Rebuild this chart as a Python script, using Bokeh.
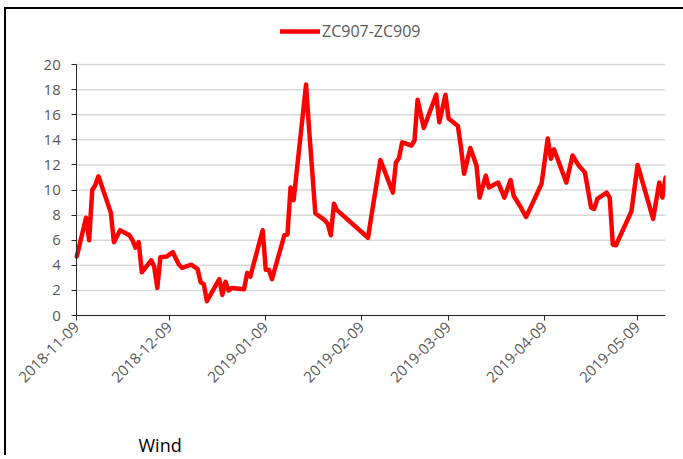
import datetime as dt
from math import pi
from bokeh.plotting import figure
from bokeh.models import (Range1d, FixedTicker, Legend, LegendItem, Label,
                          DatetimeTickFormatter, ColumnDataSource)
from bokeh.embed import file_html
from bokeh.resources import INLINE

# ---------------- data ----------------
series_name = "ZC907-ZC909"
caption = "Wind"

dates = [
    "2018-11-09", "2018-11-12", "2018-11-13", "2018-11-14", "2018-11-15", "2018-11-16",
    "2018-11-20", "2018-11-21", "2018-11-23", "2018-11-26", "2018-11-27", "2018-11-28",
    "2018-11-29", "2018-11-30", "2018-12-03", "2018-12-04", "2018-12-05", "2018-12-06",
    "2018-12-08", "2018-12-10", "2018-12-12", "2018-12-13", "2018-12-16", "2018-12-18",
    "2018-12-19", "2018-12-20", "2018-12-21", "2018-12-25", "2018-12-26", "2018-12-27",
    "2018-12-28", "2018-12-29", "2019-01-02", "2019-01-03", "2019-01-04", "2019-01-08",
    "2019-01-09", "2019-01-10", "2019-01-11", "2019-01-15", "2019-01-16", "2019-01-17",
    "2019-01-18", "2019-01-22", "2019-01-23", "2019-01-25", "2019-01-28", "2019-01-29",
    "2019-01-30", "2019-01-31", "2019-02-01", "2019-02-11", "2019-02-12", "2019-02-15",
    "2019-02-19", "2019-02-20", "2019-02-21", "2019-02-22", "2019-02-25", "2019-02-26",
    "2019-02-27", "2019-03-01", "2019-03-05", "2019-03-06", "2019-03-08", "2019-03-09",
    "2019-03-11", "2019-03-12", "2019-03-13", "2019-03-14", "2019-03-16", "2019-03-18",
    "2019-03-19", "2019-03-21", "2019-03-22", "2019-03-25", "2019-03-27", "2019-03-29",
    "2019-03-30", "2019-04-01", "2019-04-03", "2019-04-05", "2019-04-08", "2019-04-10",
    "2019-04-11", "2019-04-12", "2019-04-16", "2019-04-18", "2019-04-20", "2019-04-22",
    "2019-04-24", "2019-04-25", "2019-04-26", "2019-04-29", "2019-04-30", "2019-05-01",
    "2019-05-02", "2019-05-07", "2019-05-09", "2019-05-14", "2019-05-16", "2019-05-17",
    "2019-05-18",
]
values = [
    4.7, 7.8, 6.0, 10.0, 10.4, 11.1,
    8.2, 5.85, 6.8, 6.4, 6.0, 5.4,
    5.85, 3.45, 4.4, 3.9, 2.2, 4.65,
    4.7, 5.05, 4.05, 3.8, 4.05, 3.7,
    2.65, 2.5, 1.15, 2.9, 1.65, 2.7,
    2.0, 2.2, 2.1, 3.4, 3.1, 6.8,
    3.65, 3.65, 2.9, 6.4, 6.45, 10.2,
    9.2, 18.4, 14.8, 8.15, 7.6, 7.3,
    6.4, 8.9, 8.4, 6.2, 7.8, 12.4,
    9.8, 12.2, 12.55, 13.8, 13.55, 13.95,
    17.2, 14.95, 17.6, 15.4, 17.6, 15.7,
    15.3, 15.1, 13.4, 11.3, 13.35, 11.95,
    9.4, 11.15, 10.2, 10.6, 9.4, 10.8,
    9.55, 8.75, 7.85, 8.9, 10.5, 14.1,
    12.5, 13.25, 10.6, 12.75, 11.95, 11.4,
    8.6, 8.5, 9.3, 9.8, 9.4, 5.65,
    5.6, 8.3, 12.0, 7.7, 10.6, 9.4,
    11.0,
]
x_tick_labels = ["2018-11-09", "2018-12-09", "2019-01-09", "2019-02-09",
                 "2019-03-09", "2019-04-09", "2019-05-09"]
y_ticks = [0, 2, 4, 6, 8, 10, 12, 14, 16, 18, 20]

# ---------------- layout constants ----------------
FONT = "Open Sans"
GRAY = "#595959"
AXIS = "#262626"
# blank room around the plot area (legend above, labels/caption below, y labels left);
# the axes themselves stay on 0..20 and on the first..last date
Y_TOP = 23.59
Y_BOT = -11.31
X_PAD_DAYS = 22.67


def to_ms(s):
    return (dt.datetime.strptime(s, "%Y-%m-%d") - dt.datetime(1970, 1, 1)).total_seconds() * 1000


x_ms = [to_ms(d) for d in dates]
tick_ms = [to_ms(s) for s in x_tick_labels]
x0, x1 = x_ms[0], x_ms[-1]

src = ColumnDataSource(data=dict(x=x_ms, y=values))
grid_src = ColumnDataSource(data=dict(x0=[x0] * len(y_ticks), x1=[x1] * len(y_ticks),
                                      y=y_ticks))

p = figure(width=679, height=448, x_axis_type="datetime",
           output_backend="svg", toolbar_location=None,
           x_range=Range1d(x0 - X_PAD_DAYS * 86400000, x1), y_range=Range1d(Y_BOT, Y_TOP),
           min_border_left=0, min_border_right=20,
           min_border_top=10, min_border_bottom=0)
p.styles = {"margin-left": "4px", "margin-top": "7px",
            "border-left": "2px solid black", "border-top": "2px solid black",
            "border-right": "none", "border-bottom": "none"}
p.outline_line_color = None
p.background_fill_color = "white"
p.border_fill_color = "white"
p.xgrid.grid_line_color = None
p.ygrid.grid_line_color = None

# horizontal gridlines at the y ticks, spanning the dated part only
p.segment(x0="x0", y0="y", x1="x1", y1="y", source=grid_src,
          line_color="#d9d9d9", line_width=1.5)

r = p.line(x="x", y="y", source=src, line_color="#ff0000", line_width=4.5,
           line_join="round", line_cap="round")

# axes (placed inside the frame so nothing gets clipped)
p.xaxis.ticker = FixedTicker(ticks=tick_ms)
fmt = "%Y-%m-%d"
p.xaxis.formatter = DatetimeTickFormatter(days=fmt, months=fmt, years=fmt, hours=fmt,
                                          hourmin=fmt, minutes=fmt, minsec=fmt,
                                          seconds=fmt, milliseconds=fmt, microseconds=fmt)
p.xaxis.major_label_orientation = pi / 4
p.xaxis.fixed_location = 0
p.xaxis.bounds = (x0, x1)
p.yaxis.ticker = FixedTicker(ticks=y_ticks)
p.yaxis.bounds = (y_ticks[0], y_ticks[-1])
p.yaxis.fixed_location = x0

for ax in (p.xaxis[0], p.yaxis[0]):
    ax.axis_line_color = AXIS
    ax.axis_line_width = 1
    ax.major_tick_line_color = AXIS
    ax.major_tick_out = 5
    ax.major_tick_in = 0
    ax.minor_tick_line_color = None
    ax.major_label_text_font = FONT
    ax.major_label_text_font_size = "15px"
    ax.major_label_text_color = GRAY
p.yaxis.major_label_standoff = 11
p.xaxis.major_label_standoff = 4

legend = Legend(items=[LegendItem(label=series_name, renderers=[r])],
                location=(274, 415), orientation="horizontal",
                glyph_width=40, glyph_height=20, label_height=20,
                label_standoff=2, padding=0, margin=0, spacing=0,
                border_line_color=None, background_fill_alpha=0,
                label_text_font=FONT, label_text_font_size="16px",
                label_text_color=GRAY)
p.add_layout(legend)

p.add_layout(Label(x=132, y=13, x_units="screen", y_units="screen", text=caption,
                   text_font=FONT, text_font_size="18px", text_color="black",
                   text_baseline="middle"))

open("out.html", "w").write(file_html(p, INLINE))
